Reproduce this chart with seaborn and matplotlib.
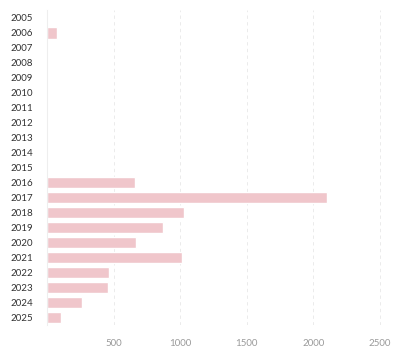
import numpy as np
import pandas as pd
import matplotlib
matplotlib.use("Agg")
import matplotlib.pyplot as plt
import seaborn as sns

# Datos
years = [str(y) for y in range(2005, 2026)]
counts = [0, 75, 0, 0, 0, 0, 0, 0, 0, 0, 0,
          660, 2104, 1031, 873, 668, 1011, 468, 460, 260, 103]
x_ticks = [500, 1000, 1500, 2000, 2500]

df = pd.DataFrame({"year": years, "count": counts})

sns.set_style("white")
plt.rcParams["font.family"] = ["Lato", "DejaVu Sans"]

fig = plt.figure(figsize=(3.98, 3.51), dpi=100)
ax = fig.add_axes([0.118, 0.074, 0.862, 0.897])

sns.barplot(data=df, x="count", y="year", orient="h", color="#f0c6cb",
            saturation=1, width=0.78, ax=ax)

ax.set_xlim(0, 2575)
ax.set_ylim(20.5, -0.5)
ax.set_xticks(x_ticks)
ax.set_xticklabels([str(t) for t in x_ticks], color="#9a9a9a", fontsize=7)
ax.tick_params(axis="y", labelsize=7, labelcolor="#333333", length=0, pad=10)
ax.tick_params(axis="x", length=0, pad=10)
ax.xaxis.grid(True, linestyle=(0, (4, 4)), color="#e8e8e8", linewidth=0.6)
ax.set_axisbelow(True)
ax.set_xlabel("")
ax.set_ylabel("")

for s in ["top", "right", "bottom"]:
    ax.spines[s].set_visible(False)
ax.spines["left"].set_color("#eeeeee")
ax.spines["left"].set_linewidth(0.8)

fig.savefig("out.png", dpi=100)
